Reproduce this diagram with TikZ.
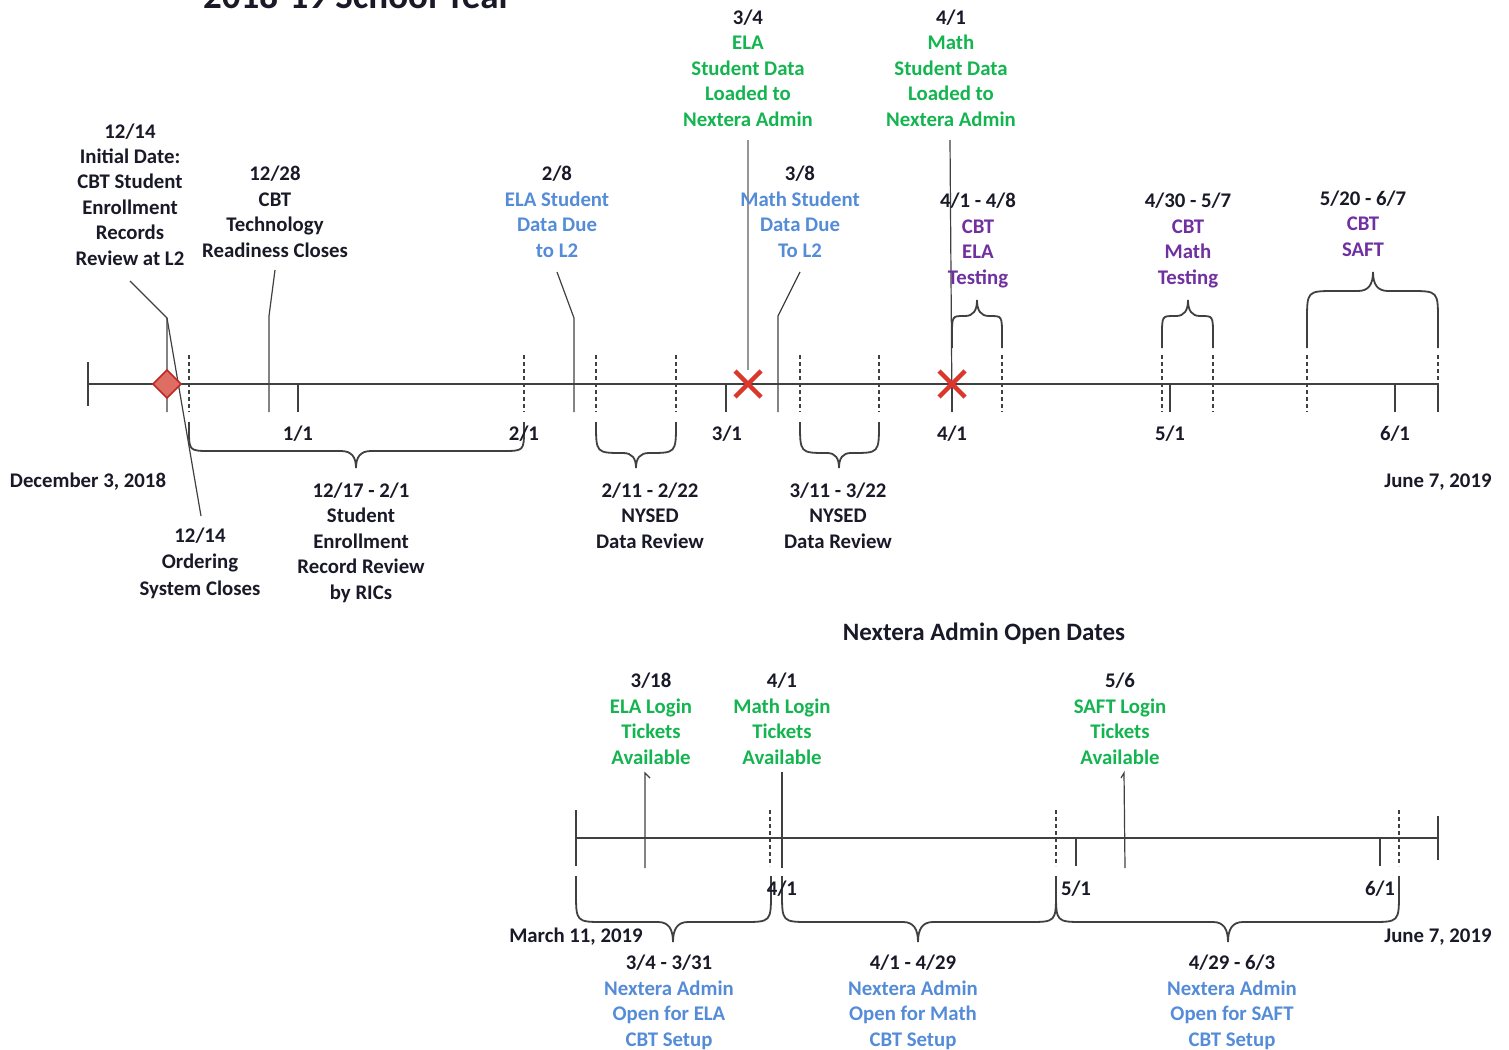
\documentclass[tikz,border=0pt]{standalone}
\usepackage{fontspec}
\setmainfont{Carlito}
\definecolor{txt}{RGB}{25,25,40}
\definecolor{grn}{RGB}{20,180,80}
\definecolor{blu}{RGB}{85,140,215}
\definecolor{pur}{RGB}{112,48,160}
\definecolor{ln}{RGB}{64,64,64}
\definecolor{lgray}{RGB}{150,150,150}
\definecolor{xred}{RGB}{220,55,45}
\definecolor{xdark}{RGB}{190,40,35}
\definecolor{dfill}{RGB}{222,110,100}
\newcommand\brc[9]{% x1 x2 xm ybase yflat ytip rx ry cw
  \draw[bracestyle] (#1,#4) -- (#1,{#5-(#8)*sign(#5-#4)}) .. controls (#1,#5) .. ({#1+#7},#5)
    -- ({#3-#9},#5) .. controls ({#3-0.3*#9},#5) and (#3,{#5+0.35*(#6-#5)}) .. (#3,#6)
    .. controls (#3,{#5+0.35*(#6-#5)}) and ({#3+0.3*#9},#5) .. ({#3+#9},#5)
    -- ({#2-#7},#5) .. controls (#2,#5) .. (#2,{#5-(#8)*sign(#5-#4)}) -- (#2,#4);}
\begin{document}
\begin{tikzpicture}[x=1pt,y=-1pt,
  lbl/.style={font=\fontsize{20.8}{25.4}\selectfont\bfseries, align=center, anchor=base, inner sep=0pt, text=txt},
  axisline/.style={draw=ln, line width=1.3pt},
  tick/.style={draw=ln, line width=1.3pt},
  dtick/.style={draw=ln, line width=1.2pt, dash pattern=on 4pt off 3pt},
  leader/.style={draw=ln, line width=1.2pt},
  lleader/.style={draw=lgray, line width=1.3pt},
  bracestyle/.style={draw=ln, line width=1.8pt},
  xmark/.style={draw=xred, line width=4.5pt}]
\useasboundingbox (0,0) rectangle (1509,1049);
\clip (0,0) rectangle (1509,1049);

% title (cut off at top)
\node[font=\fontsize{37}{42}\selectfont\bfseries, anchor=base west, inner sep=0pt, text=txt] (title) at (203,9) {2018-19 School Year};

% ===== top timeline =====
\coordinate (a0) at (88,384); \coordinate (a1) at (1438,384);
\draw[axisline] (a0) -- (a1);
\draw[tick] (88,362) -- (88,406);
\draw[tick] (1438,384) -- (1438,412);
\draw[dtick] (1438,355) -- (1438,384);
\foreach \x in {298,726,952,1170,1395} \draw[tick] (\x,384) -- (\x,412);
\foreach \x in {189,524,596,676,800,879,1002,1162,1213,1307} \draw[dtick] (\x,355) -- (\x,412);

% leaders
\coordinate (k1) at (167,318);
\draw[leader] (130,281) -- (k1) -- (167,412);
\draw[leader] (k1) -- (201,516);
\draw[leader] (275,270) -- (269,316) -- (269,412);
\draw[leader] (557,272) -- (574,318) -- (574,412);
\draw[leader] (800,272) -- (778,316) -- (778,412);
\draw[lleader] (748,140) -- (748,370);
\draw[leader] (950,140) -- (952,412);

% diamond
\draw[draw=xdark, fill=dfill, line width=1.5pt] (167,370) -- (181,384) -- (167,398) -- (153,384) -- cycle;
% X marks
\draw[xmark] (735,371) -- (761,397) (735,397) -- (761,371);
\draw[xmark] (939,371) -- (965,397) (939,397) -- (965,371);

% braces
\brc{189}{524}{356}{422}{451}{468}{22}{22}{15}
\brc{596}{676}{636}{422}{453}{468}{27}{30}{13}
\brc{800}{879}{839}{422}{453}{468}{27}{30}{12}
\brc{952}{1002}{977}{348}{316}{300}{12}{20}{12}
\brc{1162}{1213}{1188}{348}{316}{300}{12}{20}{12}
\brc{1307}{1438}{1373}{348}{291}{272}{28}{30}{15}

% labels above (anchor = baseline of last line)
\node[lbl] (l1214a) at (130,265) {12/14\\Initial Date:\\CBT Student\\Enrollment\\Records\\Review at L2};
\node[lbl] (l1228) at (275,257) {12/28\\CBT\\Technology\\Readiness Closes};
\node[lbl, text=blu] (l28) at (557,257) {\textcolor{txt}{2/8}\\ELA Student\\Data Due\\to L2};
\node[lbl, text=blu] (l38) at (800,257) {\textcolor{txt}{3/8}\\Math Student\\Data Due\\To L2};
\node[lbl, text=grn] (l34) at (748,126) {\textcolor{txt}{3/4}\\ELA\\Student Data\\Loaded to\\Nextera Admin};
\node[lbl, text=grn] (l41) at (951,126) {\textcolor{txt}{4/1}\\Math\\Student Data\\Loaded to\\Nextera Admin};
\node[lbl, text=pur] (lela) at (978,284) {\textcolor{txt}{4/1 - 4/8}\\CBT\\ELA\\Testing};
\node[lbl, text=pur] (lmath) at (1188,284) {\textcolor{txt}{4/30 - 5/7}\\CBT\\Math\\Testing};
\node[lbl, text=pur] (lsaft) at (1363,256) {\textcolor{txt}{5/20 - 6/7}\\CBT\\SAFT};

% axis labels
\node[lbl] (m11) at (298,440) {1/1};
\node[lbl] (m21) at (524,440) {2/1};
\node[lbl] (m31) at (727,440) {3/1};
\node[lbl] (m41) at (952,440) {4/1};
\node[lbl] (m51) at (1170,440) {5/1};
\node[lbl] (m61) at (1395,440) {6/1};
\node[lbl] (dstart) at (88,487) {December 3, 2018};
\node[lbl] (dend) at (1438,487) {June 7, 2019};

% labels below
\node[lbl] (l1217) at (361,599) {12/17 - 2/1\\Student\\Enrollment\\Record Review\\by RICs};
\node[lbl] (lny1) at (650,548) {2/11 - 2/22\\NYSED\\Data Review};
\node[lbl] (lny2) at (838,548) {3/11 - 3/22\\NYSED\\Data Review};
\node[lbl, font=\fontsize{20.8}{26.5}\selectfont\bfseries] (l1214b) at (200,595) {12/14\\Ordering\\System Closes};

% ===== bottom timeline =====
\node[lbl, font=\fontsize{25}{30}\selectfont\bfseries] (btitle) at (984,640) {Nextera Admin Open Dates};
\coordinate (b0) at (576,838); \coordinate (b1) at (1438,838);
\draw[axisline] (b0) -- (b1);
\draw[tick] (576,810) -- (576,866);
\draw[tick] (1438,816) -- (1438,860);
\foreach \x in {1076,1380} \draw[tick] (\x,838) -- (\x,866);
\foreach \x in {770,1056,1399} \draw[dtick] (\x,810) -- (\x,866);
\draw[leader] (650,778) -- (645,773) -- (645,868);
\draw[leader] (782,772) -- (782,868);
\draw[leader] (1121,778) -- (1124,773) -- (1125,868);

\brc{576}{771}{673}{876}{922}{942}{28}{30}{15}
\brc{782}{1056}{918}{876}{922}{942}{28}{30}{15}
\brc{1056}{1399}{1228}{876}{922}{942}{28}{30}{15}

\node[lbl, text=grn] (n318) at (651,764) {\textcolor{txt}{3/18}\\ELA Login\\Tickets\\Available};
\node[lbl, text=grn] (n41) at (782,764) {\textcolor{txt}{4/1}\\Math Login\\Tickets\\Available};
\node[lbl, text=grn] (n56) at (1120,764) {\textcolor{txt}{5/6}\\SAFT Login\\Tickets\\Available};

\node[lbl] (bm41) at (782,895) {4/1};
\node[lbl] (bm51) at (1076,895) {5/1};
\node[lbl] (bm61) at (1380,895) {6/1};
\node[lbl] (bstart) at (576,942) {March 11, 2019};
\node[lbl] (bend) at (1438,942) {June 7, 2019};

\node[lbl, text=blu] (o1) at (669,1046) {\textcolor{txt}{3/4 - 3/31}\\Nextera Admin\\Open for ELA\\CBT Setup};
\node[lbl, text=blu] (o2) at (913,1046) {\textcolor{txt}{4/1 - 4/29}\\Nextera Admin\\Open for Math\\CBT Setup};
\node[lbl, text=blu] (o3) at (1232,1046) {\textcolor{txt}{4/29 - 6/3}\\Nextera Admin\\Open for SAFT\\CBT Setup};
\end{tikzpicture}
\end{document}
